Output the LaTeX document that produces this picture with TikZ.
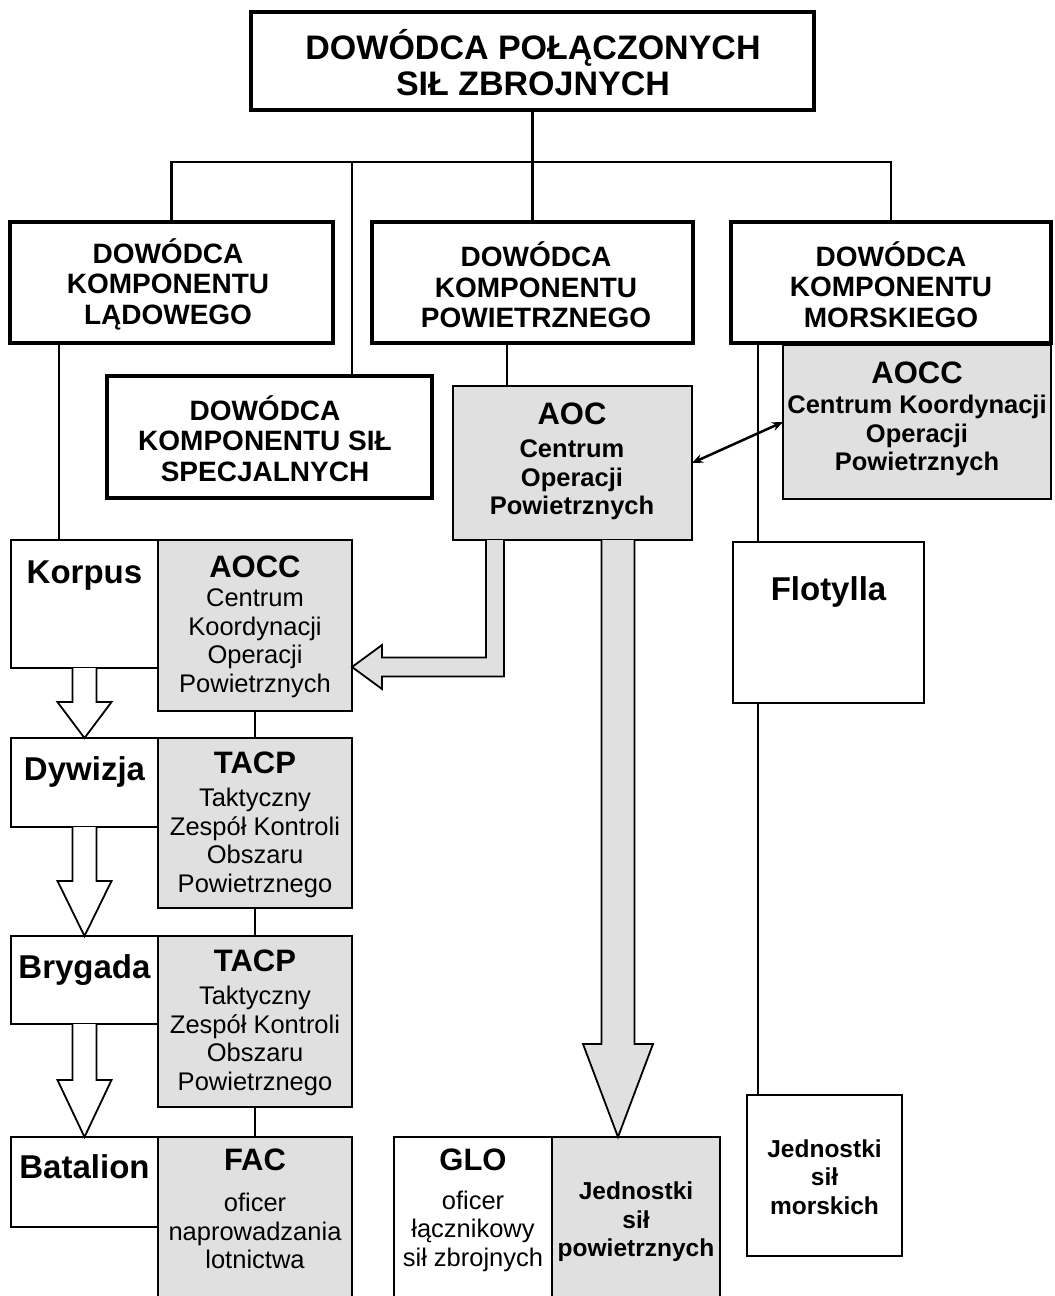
\documentclass[tikz,border=0pt]{standalone}
\usepackage{fontspec}
\setmainfont{Liberation Sans}
\usetikzlibrary{calc,arrows.meta}
\definecolor{shade}{gray}{0.88}

% block arrow pointing down: style, start, tip, shaft half width, head half width, head length
\newcommand{\blockdown}[6]{%
  \filldraw[#1] ($(#2)+(-#4,0)$) -- ($(#3)+(-#4,-#6)$) -- ($(#3)+(-#5,-#6)$) -- (#3)
    -- ($(#3)+(#5,-#6)$) -- ($(#3)+(#4,-#6)$) -- ($(#2)+(#4,0)$);}

\tikzset{
  every node/.style={inner sep=0pt,outer sep=0pt},
  cmdbox/.style={draw,line width=3.8pt,fill=white},
  unitbox/.style={draw,line width=1.8pt,fill=white},
  cellbox/.style={draw,line width=1.8pt,fill=shade},
  link/.style={line width=2.8pt},
  hollow/.style={draw,line width=1.8pt,fill=white,line join=miter},
  greyarrow/.style={draw,line width=1.8pt,fill=shade,line join=miter},
  toptext/.style={font=\fontsize{34}{36}\selectfont\bfseries,align=center},
  cmdtext/.style={font=\fontsize{28}{30.5}\selectfont\bfseries,align=center},
  unittext/.style={font=\fontsize{33}{36}\selectfont\bfseries,anchor=base},
  hdrtext/.style={font=\fontsize{31}{34}\selectfont\bfseries},
  bodytext/.style={font=\fontsize{25.5}{28.5}\selectfont,align=center},
  boldbody/.style={font=\fontsize{25.5}{28.5}\selectfont\bfseries,align=center},
  smallbold/.style={font=\fontsize{24.5}{28.5}\selectfont\bfseries,align=center},
}

\begin{document}
\begin{tikzpicture}[x=1pt,y=-1pt]
\path[use as bounding box] (0,0) rectangle (1055,1296);
\clip (0,0) rectangle (1055,1296);
\fill[white] (0,0) rectangle (1055,1296);

% command level
\node[cmdbox,minimum width=563pt,minimum height=98pt] (top) at (532.5,61) {};
\node[cmdbox,minimum width=323pt,minimum height=121pt] (kl) at (171.5,282.5) {};
\node[cmdbox,minimum width=321pt,minimum height=121pt] (kp) at (532.5,282.5) {};
\node[cmdbox,minimum width=320pt,minimum height=121pt] (km) at (891,282.5) {};
\node[cmdbox,minimum width=325pt,minimum height=122pt] (spec) at (269.5,437) {};

% air operations centres
\node[cellbox,minimum width=239pt,minimum height=154pt] (aoc) at (572.5,463) {};
\node[cellbox,minimum width=268pt,minimum height=154pt] (aoccm) at (917,422) {};

% land chain
\node[unitbox,minimum width=147pt,minimum height=128pt] (korpus) at (84.5,604) {};
\node[cellbox,minimum width=194pt,minimum height=171pt] (aocck) at (255,625.5) {};
\node[unitbox,minimum width=147pt,minimum height=89pt] (dywizja) at (84.5,782.5) {};
\node[cellbox,minimum width=194pt,minimum height=170pt] (tacp1) at (255,823) {};
\node[unitbox,minimum width=147pt,minimum height=88pt] (brygada) at (84.5,980) {};
\node[cellbox,minimum width=194pt,minimum height=171pt] (tacp2) at (255,1021.5) {};
\node[unitbox,minimum width=147pt,minimum height=90pt] (batalion) at (84.5,1182) {};
\node[cellbox,minimum width=194pt,minimum height=166pt] (fac) at (255,1220) {};

% air and naval units
\node[unitbox,minimum width=158pt,minimum height=166pt] (glo) at (473,1220) {};
\node[cellbox,minimum width=168pt,minimum height=166pt] (jsp) at (636,1220) {};
\node[unitbox,minimum width=191pt,minimum height=161pt] (flotylla) at (828.5,622.5) {};
\node[unitbox,minimum width=155pt,minimum height=161pt] (jsm) at (824.5,1175.5) {};

% texts
\node[toptext] (topT) at (533,62.5) {DOWÓDCA POŁĄCZONYCH\\SIŁ ZBROJNYCH};
\node[cmdtext] (klT) at (168,284) {DOWÓDCA\\KOMPONENTU\\LĄDOWEGO};
\node[cmdtext] (kpT) at (536,285) {DOWÓDCA\\KOMPONENTU\\POWIETRZNEGO};
\node[cmdtext] (kmT) at (891,284.5) {DOWÓDCA\\KOMPONENTU\\MORSKIEGO};
\node[cmdtext] (specT) at (265,438.5) {DOWÓDCA\\KOMPONENTU SIŁ\\SPECJALNYCH};

\node[hdrtext] (aocH) at (572,414) {AOC};
\node[boldbody] (aocB) at (572,480) {Centrum\\Operacji\\Powietrznych};
\node[hdrtext] (aoccmH) at (917,373) {AOCC};
\node[boldbody] (aoccmB) at (917,435.5) {Centrum Koordynacji\\Operacji\\Powietrznych};

\node[unittext] (korpusT) at (84.5,583) {Korpus};
\node[hdrtext] (aocckH) at (255,567) {AOCC};
\node[bodytext] (aocckB) at (255,643) {Centrum\\Koordynacji\\Operacji\\Powietrznych};
\node[unittext] (dywizjaT) at (84.5,780) {Dywizja};
\node[hdrtext] (tacp1H) at (255,763) {TACP};
\node[bodytext] (tacp1B) at (255,843) {Taktyczny\\Zespół Kontroli\\Obszaru\\Powietrznego};
\node[unittext] (brygadaT) at (84.5,978) {Brygada};
\node[hdrtext] (tacp2H) at (255,961) {TACP};
\node[bodytext] (tacp2B) at (255,1041) {Taktyczny\\Zespół Kontroli\\Obszaru\\Powietrznego};
\node[unittext] (batalionT) at (84.5,1178) {Batalion};
\node[hdrtext] (facH) at (255,1160) {FAC};
\node[bodytext] (facB) at (255,1231) {oficer\\naprowadzania\\lotnictwa};
\node[hdrtext] (gloH) at (473,1160) {GLO};
\node[bodytext] (gloB) at (473,1231) {oficer\\łącznikowy\\sił zbrojnych};
\node[smallbold] (jspT) at (636,1222) {Jednostki\\sił\\powietrznych};
\node[unittext] (flotyllaT) at (828.5,600) {Flotylla};
\node[smallbold] (jsmT) at (824.5,1177) {Jednostki\\sił\\morskich};

% drop lines at fixed x positions
\coordinate (bus) at (532.5,162);
\coordinate (specdrop) at (352,162);
\coordinate (landdrop) at (59,0);
\coordinate (airdrop) at (507,0);
\coordinate (navaldrop) at (758,0);

% command tree
\draw[link] (top.south) -- (kp.north);
\draw[link] (kl.north) |- (bus) -| (km.north);
\draw[link] (specdrop) -- (specdrop |- spec.north);
\draw[link] (kl.south -| landdrop) -- (korpus.north -| landdrop);
\draw[link] (kp.south -| airdrop) -- (aoc.north -| airdrop);
\draw[link] (km.south -| navaldrop) -- (flotylla.north -| navaldrop);
\draw[link] (flotylla.south -| navaldrop) -- (jsm.north -| navaldrop);
\draw[link] (aocck.south) -- (tacp1.north);
\draw[link] (tacp1.south) -- (tacp2.north);
\draw[link] (tacp2.south) -- (fac.north);
\draw[line width=2.5pt,{Stealth[length=11pt,width=9pt]}-{Stealth[length=11pt,width=9pt]}]
  (aoc.east) -- (aoccm.west);

% hollow arrows between land echelons
\coordinate (a1s) at (korpus.south);   \coordinate (a1t) at (korpus.south |- dywizja.north);
\coordinate (a2s) at (dywizja.south);  \coordinate (a2t) at (dywizja.south |- brygada.north);
\coordinate (a3s) at (brygada.south);  \coordinate (a3t) at (brygada.south |- batalion.north);
\blockdown{hollow}{a1s}{a1t}{12}{27}{36}
\blockdown{hollow}{a2s}{a2t}{12}{27}{55}
\blockdown{hollow}{a3s}{a3t}{12}{27}{57}

% grey arrow from AOC down to the air units
\coordinate (gx) at (618,0);
\coordinate (gs) at (aoc.south -| gx);
\coordinate (gt) at (jsp.north -| gx);
\blockdown{greyarrow}{gs}{gt}{16.5}{35}{93}

% grey bent arrow from AOC to the corps AOCC
\coordinate (bend) at (495,667);
\coordinate (bs) at (aoc.south -| bend);
\coordinate (bt) at (aocck.east |- bend);
\filldraw[greyarrow] ($(bs)+(-9,0)$) -- ($(bend)+(-9,-9.5)$) -- ($(bt)+(30,-9.5)$)
  -- ($(bt)+(30,-22)$) -- (bt) -- ($(bt)+(30,22)$) -- ($(bt)+(30,9.5)$)
  -- ($(bend)+(9,9.5)$) -- ($(bs)+(9,0)$);
\end{tikzpicture}
\end{document}
